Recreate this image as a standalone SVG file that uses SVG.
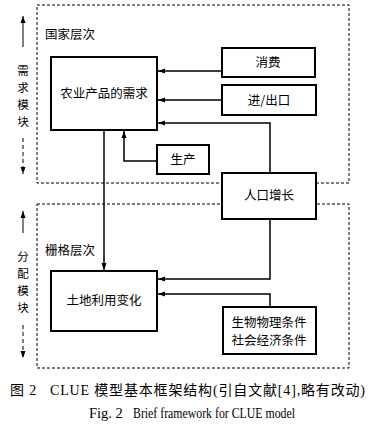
<svg xmlns="http://www.w3.org/2000/svg" width="380" height="436" viewBox="0 0 380 436">
<style>
.box{fill:#fff;stroke:#000;stroke-width:2}
.t{font-family:"Noto Sans CJK SC",sans-serif;font-size:12.5px;fill:#000;text-anchor:middle}
.lbl{font-family:"Noto Sans CJK SC",sans-serif;font-size:12.5px;fill:#000}
.side{font-family:"Noto Sans CJK SC",sans-serif;font-size:11.5px;fill:#000;text-anchor:middle}
.zone{fill:none;stroke:#000;stroke-width:1;stroke-dasharray:3 2}
.c{fill:none;stroke:#000;stroke-width:1.5}
.cap{font-family:"Liberation Serif","Noto Sans CJK SC",serif;font-size:14px;fill:#000}
.cap2{font-family:"Liberation Serif",serif;font-size:14.5px;fill:#000}
</style>
<defs>
<marker id="ar" markerWidth="8" markerHeight="8" refX="7" refY="4" orient="auto" markerUnits="userSpaceOnUse">
<path d="M0,1.5 L7,4 L0,6.5 Z" fill="#000"/>
</marker>
</defs>
<g id="zones">
<rect class="zone" x="37" y="5" width="312" height="178"/>
<rect class="zone" x="37" y="204" width="312" height="164"/>
</g>
<g id="side-labels">
<line x1="23" y1="47" x2="23" y2="16" stroke="#000" stroke-width="1" marker-end="url(#ar)"/>
<text class="side" x="23" y="75">需</text>
<text class="side" x="23" y="92">求</text>
<text class="side" x="23" y="109">模</text>
<text class="side" x="23" y="126">块</text>
<line x1="23" y1="138" x2="23" y2="174" stroke="#000" stroke-width="1" stroke-dasharray="4 3" marker-end="url(#ar)"/>
<line x1="23" y1="233" x2="23" y2="211" stroke="#000" stroke-width="1" marker-end="url(#ar)"/>
<text class="side" x="23" y="261">分</text>
<text class="side" x="23" y="278">配</text>
<text class="side" x="23" y="295">模</text>
<text class="side" x="23" y="312">块</text>
<line x1="23" y1="325" x2="23" y2="358" stroke="#000" stroke-width="1" stroke-dasharray="4 3" marker-end="url(#ar)"/>
<text class="lbl" x="45" y="39">国家层次</text>
<text class="lbl" x="45" y="255">栅格层次</text>
</g>
<g id="connectors">
<line class="c" x1="104" y1="130" x2="104" y2="270" stroke-width="2.5" marker-end="url(#ar)"/>
<line class="c" x1="222" y1="71" x2="158" y2="71" stroke-width="2" marker-end="url(#ar)"/>
<line class="c" x1="222" y1="100" x2="158" y2="100" marker-end="url(#ar)"/>
<polyline class="c" points="270,173 270,123 158,123" marker-end="url(#ar)"/>
<polyline class="c" points="157,161 124,161 124,131" marker-end="url(#ar)"/>
<polyline class="c" points="270,219 270,279 158,279" marker-end="url(#ar)"/>
<polyline class="c" points="270,307 270,294 158,294" stroke-width="1" marker-end="url(#ar)"/>
</g>
<g id="demand"><rect class="box" x="51" y="57" width="106" height="73"/><text class="t" x="104" y="98">农业产品的需求</text></g>
<g id="consume"><rect class="box" x="222" y="48" width="93" height="29"/><text class="t" x="268" y="67">消费</text></g>
<g id="trade"><rect class="box" x="222" y="85" width="94" height="30"/><text class="t" x="269" y="105">进/出口</text></g>
<g id="production"><rect class="box" x="157" y="145" width="52" height="29"/><text class="t" x="183" y="164">生产</text></g>
<g id="population"><rect class="box" x="222" y="173" width="94" height="46"/><text class="t" x="269" y="200">人口增长</text></g>
<g id="landuse"><rect class="box" x="51" y="271" width="106" height="60"/><text class="t" x="104" y="305">土地利用变化</text></g>
<g id="conditions"><rect class="box" x="223" y="307" width="93" height="47"/><text class="t" x="269" y="327">生物物理条件</text><text class="t" x="269" y="345">社会经济条件</text></g>
<g id="caption">
<text class="cap" x="10" y="395" xml:space="preserve" textLength="355" lengthAdjust="spacing">图 2   CLUE 模型基本框架结构(引自文献[4],略有改动)</text>
<text class="cap2" x="89" y="418">Fig. 2</text>
<text class="cap2" x="133" y="418" textLength="162" lengthAdjust="spacingAndGlyphs">Brief framework for CLUE model</text>
</g>
</svg>
